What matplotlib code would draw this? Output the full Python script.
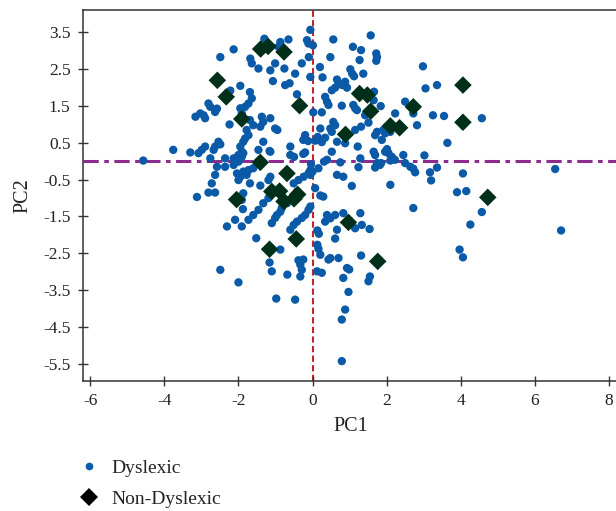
import numpy as np
import matplotlib
matplotlib.use("Agg")
import matplotlib.pyplot as plt
from matplotlib.lines import Line2D

# ---- data (PC1, PC2) ----
dyslexic = [
    (-0.06, 3.57), (-1.30, 3.33), (-0.65, 3.31), (-0.87, 3.24), (-0.92, 3.11), (-0.78, 3.02),
    (-0.15, 3.29), (-0.11, 3.20), (0.01, 3.15), (0.56, 3.31), (1.57, 3.42),
    (1.09, 3.11), (1.31, 3.02), (1.27, 2.75), (1.72, 2.93), (1.74, 2.83), (1.72, 2.73),
    (-2.13, 3.04), (-2.49, 2.83), (-1.68, 2.79), (-1.64, 2.66), (-1.46, 2.52), (-1.14, 2.47), (-1.01, 2.66),
    (-0.76, 2.52), (-0.47, 2.38), (-0.29, 2.66), (-0.10, 2.83), (0.48, 2.83), (-0.06, 2.29), (0.20, 2.56), (0.27, 2.28),
    (-1.07, 2.18), (-0.74, 2.07), (-0.62, 2.12), (-1.95, 2.05),
    (1.02, 2.50), (1.07, 2.38), (1.12, 2.31), (1.37, 2.38),
    (0.66, 2.22), (0.70, 2.13), (0.61, 2.00), (0.52, 1.93), (0.80, 2.07), (0.93, 2.00), (0.88, 2.16),
    (2.98, 2.58), (3.05, 1.98), (3.36, 2.07),
    (-1.69, 1.88), (-1.64, 1.71), (-1.73, 1.57), (-2.22, 1.92),
    (-0.42, 1.82), (0.34, 1.75), (0.39, 1.62), (0.43, 1.53), (0.02, 1.33), (0.25, 1.33),
    (0.79, 1.51), (1.10, 1.53), (1.15, 1.44), (1.20, 1.39), (1.66, 1.89), (1.65, 1.66), (1.84, 1.50),
    (1.42, 1.25), (1.51, 1.05), (1.31, 0.94), (1.15, 0.85),
    (0.56, 1.07), (0.61, 0.98), (0.48, 0.89), (0.52, 0.80),
    (0.21, 0.89), (0.14, 0.66), (0.34, 0.64), (0.07, 0.56), (0.25, 0.52),
    (-0.20, 0.71), (-0.12, 0.55), (-0.25, 0.58), (-0.60, 0.40),
    (0.66, 0.53), (0.88, 0.49), (0.52, 0.26), (1.22, 0.40),
    (1.69, 0.71), (1.74, 0.80), (1.87, 0.58), (1.96, 0.76), (1.91, 0.85), (2.10, 0.80),
    (2.23, 1.30), (2.50, 1.62), (2.72, 1.30), (2.82, 0.98), (3.25, 1.25), (3.55, 1.23), (3.64, 0.50), (4.57, 1.17),
    (-2.81, 1.57), (-2.76, 1.48), (-2.63, 1.34), (-2.58, 1.43), (-2.94, 1.25), (-3.03, 1.30), (-3.16, 1.21), (-2.90, 1.17),
    (-2.24, 1.00), (-1.82, 1.48), (-1.95, 1.44), (-1.91, 1.30),
    (-1.69, 1.12), (-1.60, 0.98), (-1.78, 0.85), (-1.73, 0.71), (-1.82, 0.62), (-1.87, 0.53), (-1.95, 0.40), (-1.91, 0.26), (-2.00, 0.17),
    (-1.37, 1.21), (-1.33, 1.07), (-1.41, 0.94), (-1.14, 1.17), (-1.01, 0.89), (-0.95, 0.85),
    (-2.54, 0.53), (-2.49, 0.46), (-2.63, 0.40), (-2.67, 0.31), (-2.90, 0.40), (-2.99, 0.31), (-3.08, 0.22), (-3.30, 0.24),
    (-3.76, 0.31), (-4.57, 0.02),
    (-1.33, 0.53), (-1.46, 0.31), (-1.16, 0.28),
    (-2.76, 0.08), (-2.36, 0.08), (-2.13, 0.08),
    (-0.60, 0.17), (-0.50, 0.12), (-0.25, 0.20), (-0.20, 0.24), (0.39, 0.04), (-0.04, -0.08), (0.31, -0.01),
    (0.75, -0.03), (1.24, -0.16), (1.29, 0.08), (1.65, 0.26), (1.69, 0.17),
    (2.01, 0.33), (2.05, 0.22), (2.14, 0.12), (2.10, 0.02), (2.22, 0.04), (1.96, 0.26),
    (1.74, -0.05), (1.82, -0.10), (1.69, -0.17), (1.85, -0.05),
    (2.45, 0.17), (2.50, -0.05), (2.72, -0.20), (2.77, -0.30), (2.64, -0.15),
    (3.02, 0.16), (3.36, -0.17), (3.17, -0.30), (3.20, -0.52),
    (4.06, -0.33), (3.90, -0.84), (4.15, -0.81), (4.57, -1.38), (4.26, -1.72), (3.97, -2.40), (4.06, -2.61),
    (6.55, -0.21), (6.71, -1.88), (2.72, -1.27), (2.10, -0.64),
    (1.06, -0.67), (0.66, -0.37), (0.83, -0.42), (0.16, -0.19), (-0.06, -0.24),
    (0.07, -0.73), (0.21, -0.93), (0.29, -0.96),
    (-2.58, -0.15), (-2.63, -0.37), (-2.72, -0.60), (-2.81, -0.85), (-2.63, -0.85), (-3.12, -0.97),
    (-2.36, -0.15), (-2.13, -0.10), (-2.00, -0.01), (-1.91, 0.12), (-1.87, 0.22),
    (-2.04, -0.33), (-1.87, -0.28), (-1.73, -0.24), (-1.60, -0.19), (-1.78, -0.37), (-1.95, -0.42), (-2.00, -0.51),
    (-1.69, -0.60), (-1.87, -0.87), (-1.95, -0.96), (-1.91, -1.05), (-1.88, -1.30),
    (-1.41, -0.66), (-1.19, -0.51), (-1.14, -0.42), (-1.37, -0.05), (-1.14, 0.26),
    (-2.09, -1.59), (-2.31, -1.77), (-1.91, -1.77), (-1.52, -2.09),
    (-1.73, -1.59), (-1.60, -1.46), (-1.46, -1.32), (-1.33, -1.14), (-1.19, -1.00),
    (-1.10, -1.68), (-1.01, -1.54), (-0.96, -1.46), (-0.87, -1.37), (-0.83, -1.27), (-0.69, -1.14),
    (-0.60, -1.05), (-0.51, -0.96), (-0.42, -0.82),
    (-0.60, -1.86), (-0.51, -1.73), (-0.42, -1.64), (-0.29, -1.54), (-0.20, -1.46), (-0.11, -1.32), (-0.06, -1.23),
    (-0.51, -0.60), (-0.38, -0.51), (-0.24, -0.42), (-0.11, -0.33), (0.00, -0.28), (-0.06, -0.37),
    (-0.87, -2.40), (-1.16, -2.75), (-1.10, -2.99), (-0.68, -3.08),
    (-0.38, -2.69), (-0.25, -2.67), (-0.33, -2.81), (-0.29, -2.95), (-0.33, -3.13),
    (-2.49, -2.95), (-2.00, -3.29), (-0.98, -3.73), (-0.47, -3.76),
    (0.13, -2.27), (0.16, -2.38), (0.21, -2.54), (0.13, -1.88), (0.17, -1.97), (0.12, -2.99), (0.25, -3.03),
    (0.39, -1.46), (0.34, -1.64), (0.48, -1.55), (0.61, -1.46), (0.83, -1.41), (0.66, -1.86), (0.61, -2.10),
    (1.29, -1.41), (1.15, -1.82), (1.33, -1.73), (1.54, -1.84),
    (0.48, -2.63), (0.43, -2.67), (0.70, -2.63), (0.93, -2.90), (0.99, -2.94),
    (1.31, -2.56), (1.55, -3.13), (1.51, -3.26), (0.83, -3.17), (0.97, -3.55),
    (0.88, -4.03), (0.79, -4.30), (0.79, -5.43),
]

non_dyslexic = [
    (-1.40, 3.05), (-1.20, 3.12), (-0.77, 2.97), (-2.57, 2.20), (-2.33, 1.75),
    (-1.91, 1.15), (-0.35, 1.51), (0.89, 0.73), (-1.41, -0.03), (-0.69, -0.33),
    (-2.05, -1.04), (-1.10, -0.82), (-0.89, -0.81), (-0.77, -1.09), (-0.40, -0.90),
    (-0.50, -1.02), (-1.16, -2.39), (-0.44, -2.11), (0.97, -1.66), (1.76, -2.72),
    (4.73, -0.98), (4.06, 2.07), (4.06, 1.06), (1.27, 1.84), (1.48, 1.80),
    (1.57, 1.36), (2.10, 0.96), (2.35, 0.91), (2.72, 1.48),
]

x_ticks = [-6, -4, -2, 0, 2, 4, 6, 8]
y_ticks = [3.5, 2.5, 1.5, 0.5, -0.5, -1.5, -2.5, -3.5, -4.5, -5.5]
legend_labels = ["Dyslexic", "Non-Dyslexic"]

# ---- styling ----
plt.rcParams['font.family'] = ['Liberation Serif', 'DejaVu Serif']
BLUE = '#0a5aa8'
GREEN = '#00301a'
TXT = '#222222'

fig = plt.figure(figsize=(6.16, 5.11), dpi=100)
ax = fig.add_axes([82.5 / 616, 1 - 381 / 511, (620 - 82.5) / 616, 371 / 511])

d = np.array(dyslexic)
n = np.array(non_dyslexic)

ax.axvline(0, color='#c0262c', lw=1.5, ls=(0, (3, 1.6)), zorder=1)
ax.axhline(0, color='#8e2b8f', lw=2.2, ls=(0, (5, 1.8, 1.5, 1.8)), zorder=1)

ax.scatter(d[:, 0], d[:, 1], s=36, marker='o', color=BLUE, edgecolors='none', zorder=2)
ax.scatter(n[:, 0], n[:, 1], s=80, marker='D', color=GREEN, edgecolors='none', zorder=3)

ax.set_xlim(-6.21, 8.3)
ax.set_ylim(-5.97, 4.11)
ax.set_xticks(x_ticks)
ax.set_xticklabels([str(t) for t in x_ticks])
ax.set_yticks(y_ticks)
ax.set_yticklabels([f"{t:.1f}" for t in y_ticks])

for side in ['top', 'left', 'bottom', 'right']:
    ax.spines[side].set_color('#333333')
    ax.spines[side].set_linewidth(1.1)

ax.tick_params(direction='inout', length=7.2, width=1.0, color='#333333',
               labelsize=12.5, labelcolor=TXT, pad=5.0)

ax.set_xlabel('PC1', fontsize=14.5, color=TXT, labelpad=6)
ax.set_ylabel('PC2', fontsize=14.5, color=TXT, labelpad=8)

handles = [
    Line2D([], [], marker='o', ls='none', color=BLUE, markersize=5.5, markeredgewidth=0),
    Line2D([], [], marker='D', ls='none', color='#000000', markersize=9.5, markeredgewidth=0),
]
fig.legend(handles, legend_labels, loc='upper left', bbox_to_anchor=(79 / 616, 1 - 459 / 511),
           frameon=False, fontsize=14, handlelength=1.0, handletextpad=0.65,
           labelspacing=0.72, labelcolor=TXT, borderaxespad=0, borderpad=0)

fig.savefig('out.png', dpi=100)
